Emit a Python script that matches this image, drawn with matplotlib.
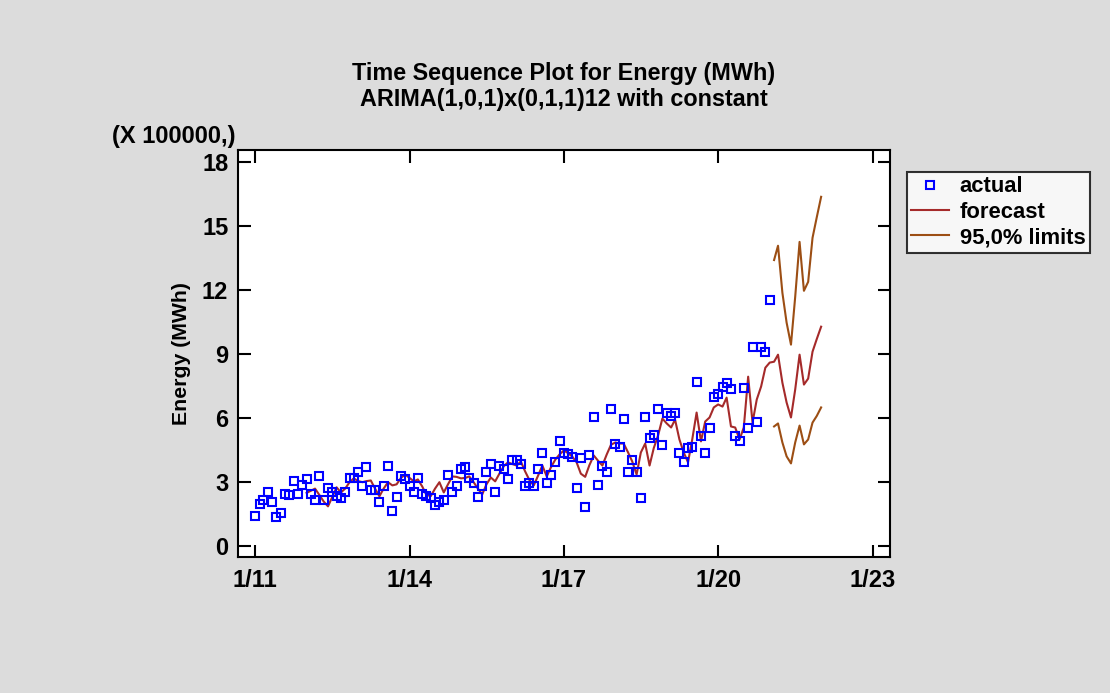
"""
Time sequence plot: actual energy, ARIMA forecast and 95% limits.
"""

import numpy as np
import pandas as pd
import matplotlib
matplotlib.use('Agg')
import matplotlib.pyplot as plt

plt.rcParams['font.family'] = ['Liberation Sans', 'DejaVu Sans']
plt.rcParams['font.weight'] = 'bold'

# Values in units of 100000 MWh
actual = [
    1.40, 1.96, 2.16, 2.54, 2.07, 1.35, 1.58, 2.47, 2.38, 3.04, 2.47, 2.85,
    3.13, 2.47, 2.15, 3.27, 2.15, 2.71, 2.52, 2.34, 2.24, 2.52, 3.18, 3.18,
    3.50, 2.80, 3.69, 2.62, 2.62, 2.07, 2.80, 3.74, 1.63, 2.29, 3.27, 3.13,
    2.80, 2.52, 3.22, 2.47, 2.34, 2.24, 1.92, 2.07, 2.15, 3.32, 2.52, 2.80,
    3.60, 3.69, 3.22, 2.94, 2.29, 2.80, 3.46, 3.83, 2.52, 3.74, 3.60, 3.13,
    4.02, 4.02, 3.83, 2.80, 2.94, 2.80, 3.60, 4.39, 2.94, 3.32, 3.93, 4.95,
    4.35, 4.30, 4.16, 2.71, 4.11, 1.82, 4.25, 6.03, 2.85, 3.78, 3.46, 6.45,
    4.81, 4.63, 5.98, 3.50, 4.02, 3.50, 2.24, 6.07, 5.05, 5.23, 6.45, 4.72,
    6.26, 6.12, 6.26, 4.35, 3.93, 4.58, 4.67, 7.71, 5.14, 4.39, 5.56, 7.01,
    7.15, 7.48, 7.66, 7.34, 5.14, 4.95, 7.43, 5.56, 9.35, 5.84, 9.35, 9.11,
    11.54,
]

# one-step fitted values from 1/12, then forecasts 2/21 .. 1/22
forecast = [
    2.50, 2.60, 2.70, 2.40, 2.10, 1.87, 2.30, 2.76, 2.52, 2.70, 3.00, 3.18,
    3.05, 3.00, 3.05, 3.08, 2.70, 2.34, 2.70, 3.00, 2.85, 2.90, 3.20, 3.36,
    3.20, 3.04, 3.13, 2.80, 2.40, 2.35, 2.70, 3.00, 2.52, 2.90, 3.27, 3.25,
    3.18, 3.20, 3.27, 3.00, 2.70, 2.43, 2.90, 3.22, 3.04, 3.40, 3.75, 3.93,
    3.85, 3.78, 3.97, 3.50, 3.10, 2.85, 3.30, 3.78, 3.27, 3.70, 4.06, 4.30,
    4.49, 4.35, 4.20, 3.93, 3.40, 3.25, 3.80, 4.25, 4.00, 3.78, 4.30, 4.75,
    4.86, 4.81, 4.81, 4.40, 3.97, 3.36, 4.39, 4.81, 3.78, 4.60, 5.20, 5.98,
    5.75, 5.56, 5.93, 5.00, 4.40, 3.93, 5.00, 6.26, 4.91, 5.84, 6.03, 6.50,
    6.64, 6.54, 6.96, 5.61, 5.56, 5.00, 5.56, 7.94, 5.79, 6.87, 7.48, 8.36,
    8.60,
    8.64, 8.97, 7.66, 6.73, 6.03, 7.34, 8.97, 7.57, 7.85, 9.11, 9.70, 10.28,
]

upper = [13.40, 14.07, 11.87, 10.47, 9.44, 11.68, 14.25, 11.96, 12.38, 14.44, 15.40, 16.36]
lower = [5.61, 5.75, 4.86, 4.21, 3.88, 4.86, 5.65, 4.77, 5.00, 5.79, 6.10, 6.50]

x_ticks = ['2011-01-01', '2014-01-01', '2017-01-01', '2020-01-01', '2023-01-01']
x_tick_labels = ['1/11', '1/14', '1/17', '1/20', '1/23']
y_ticks = [0, 3, 6, 9, 12, 15, 18]

BG = '#DCDCDC'
C_ACTUAL = '#0000FF'
C_FORECAST = '#A52A2A'
C_LIMITS = '#9C4E14'

t_actual = pd.date_range('2011-01-01', periods=len(actual), freq='MS')
t_forecast = pd.date_range('2012-01-01', periods=len(forecast), freq='MS')
t_limits = pd.date_range('2021-02-01', periods=len(upper), freq='MS')

fig = plt.figure(figsize=(11.1, 6.93), dpi=100, facecolor=BG)
ax = fig.add_axes([0.2144, 0.1963, 0.5874, 0.5872])
ax.set_facecolor('white')

ax.plot(t_actual, actual, 's', mfc='none', mec=C_ACTUAL, ms=6.3, mew=1.5,
        label='actual', zorder=3)
ax.plot(t_forecast, forecast, '-', color=C_FORECAST, lw=1.5, label='forecast')
ax.plot(t_limits, upper, '-', color=C_LIMITS, lw=1.5, label='95,0% limits')
ax.plot(t_limits, lower, '-', color=C_LIMITS, lw=1.5)

ax.set_xlim(pd.Timestamp('2010-09-01'), pd.Timestamp('2023-05-05'))
ax.set_ylim(-0.5, 18.55)
ax.set_xticks(pd.to_datetime(x_ticks))
ax.set_xticklabels(x_tick_labels)
ax.set_yticks(y_ticks)

ax.tick_params(direction='in', length=9, width=1.5, top=True, right=True,
               labelsize=17)
ax.tick_params(axis='y', pad=7)
ax.tick_params(axis='x', pad=9)
for lbl in ax.get_xticklabels() + ax.get_yticklabels():
    lbl.set_fontweight('bold')
for sp in ax.spines.values():
    sp.set_linewidth(1.5)

ax.set_ylabel('Energy (MWh)', fontsize=15.3, fontweight='bold', labelpad=8)
ax.set_title('Time Sequence Plot for Energy (MWh)\nARIMA(1,0,1)x(0,1,1)12 with constant',
             fontsize=16.8, fontweight='bold', pad=32, linespacing=1.15)
fig.text(0.101, 0.787, '(X 100000,)', fontsize=17, fontweight='bold',
         ha='left', va='bottom')

leg = ax.legend(loc='upper left', bbox_to_anchor=(1.026, 0.946), fontsize=15.8,
                frameon=True, fancybox=False, handlelength=1.7,
                borderpad=0.2, labelspacing=0.2, handletextpad=0.5,
                borderaxespad=0)
leg.get_frame().set_edgecolor('black')
leg.get_frame().set_linewidth(1.5)
for txt in leg.get_texts():
    txt.set_fontweight('bold')

fig.savefig('out.png', dpi=100, facecolor=BG)
